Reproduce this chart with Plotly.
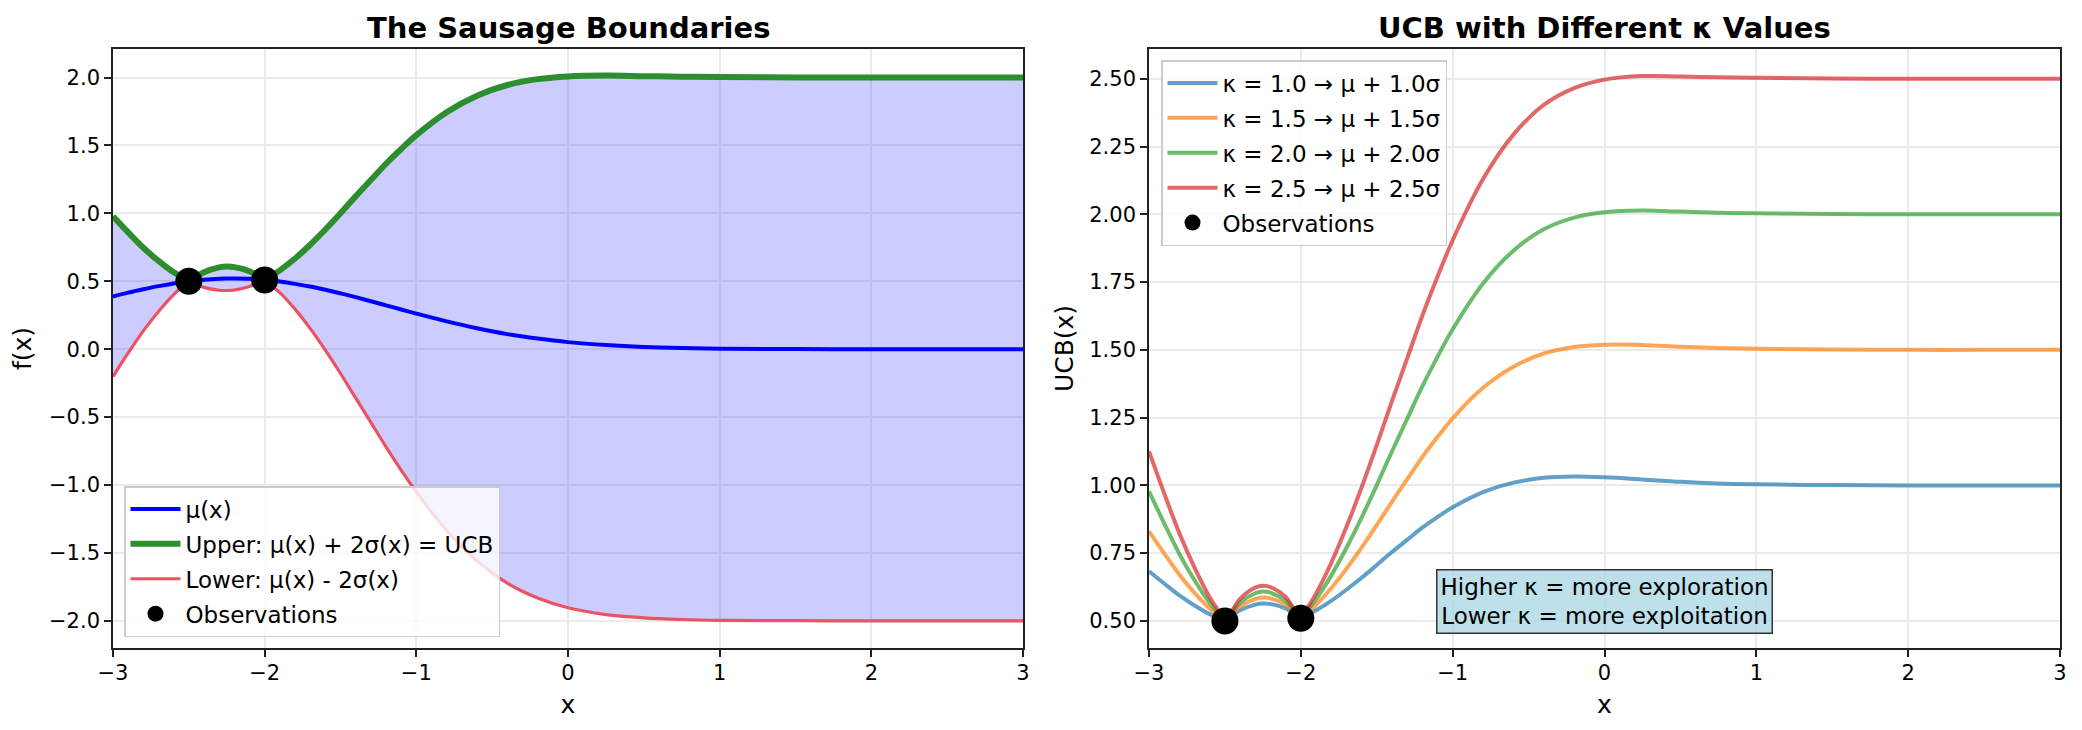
import plotly.graph_objects as go

# GP posterior (2 observations, RBF kernel)
x = [-3.0, -2.9, -2.8, -2.7, -2.6, -2.55, -2.5, -2.45, -2.4, -2.3, -2.25, -2.2, -2.1, -2.05, -2.0,
     -1.95, -1.9, -1.8, -1.7, -1.6, -1.5, -1.4, -1.3, -1.2, -1.1, -1.0, -0.8, -0.6, -0.4, -0.2,
     0.0, 0.25, 0.5, 0.75, 1.0, 1.5, 2.0, 2.5, 3.0]
mu = [0.388, 0.416, 0.441, 0.464, 0.484, 0.493, 0.500, 0.506, 0.511, 0.518, 0.520, 0.520, 0.518, 0.514, 0.510,
      0.504, 0.498, 0.481, 0.461, 0.437, 0.411, 0.383, 0.353, 0.323, 0.292, 0.262, 0.205, 0.154, 0.111, 0.078,
      0.052, 0.030, 0.016, 0.008, 0.004, 0.001, 0.0, 0.0, 0.0]
sigma = [0.295, 0.222, 0.153, 0.093, 0.041, 0.020, 0.0, 0.014, 0.028, 0.042, 0.044, 0.042, 0.028, 0.014, 0.0,
         0.020, 0.041, 0.093, 0.154, 0.222, 0.295, 0.371, 0.446, 0.521, 0.591, 0.657, 0.770, 0.856, 0.917, 0.955,
         0.978, 0.992, 0.997, 0.999, 1.0, 1.0, 1.0, 1.0, 1.0]

obs_x = [-2.5, -2.0]
obs_y = [0.5, 0.51]

kappas = [1.0, 1.5, 2.0, 2.5]
kappa_colors = ['rgba(31,119,180,0.7)', 'rgba(255,127,14,0.7)', 'rgba(44,160,44,0.7)', 'rgba(214,39,40,0.7)']

upper = [m + 2 * s for m, s in zip(mu, sigma)]
lower = [m - 2 * s for m, s in zip(mu, sigma)]

FONT = 'DejaVu Sans'
W, H = 2082, 730
OFF = 8  # page body margin


def px(v):
    return (v - OFF) / W


def py(v):
    return 1 - (v - OFF) / H


fig = go.Figure()

# --- left panel: sausage
fig.add_trace(go.Scatter(x=x, y=upper, mode='lines', line=dict(width=0, shape='spline'),
                         showlegend=False, hoverinfo='skip', xaxis='x', yaxis='y'))
fig.add_trace(go.Scatter(x=x, y=lower, mode='lines', line=dict(width=0, shape='spline'),
                         fill='tonexty', fillcolor='rgba(0,0,255,0.2)',
                         showlegend=False, hoverinfo='skip', xaxis='x', yaxis='y'))
fig.add_trace(go.Scatter(x=x, y=mu, mode='lines', name='μ(x)',
                         line=dict(color='#0000ff', width=4, shape='spline'),
                         legend='legend', legendgroup='a', xaxis='x', yaxis='y'))
fig.add_trace(go.Scatter(x=x, y=upper, mode='lines', name='Upper: μ(x) + 2σ(x) = UCB',
                         line=dict(color='#2d8e2d', width=6, shape='spline'),
                         legend='legend', legendgroup='b', xaxis='x', yaxis='y'))
fig.add_trace(go.Scatter(x=x, y=lower, mode='lines', name='Lower: μ(x) - 2σ(x)',
                         line=dict(color='#ea5362', width=3.2, shape='spline'),
                         legend='legend', legendgroup='c', xaxis='x', yaxis='y'))
fig.add_trace(go.Scatter(x=obs_x, y=obs_y, mode='markers', name='Observations',
                         marker=dict(color='black', size=27),
                         legend='legend', legendgroup='d', xaxis='x', yaxis='y'))

# --- right panel: UCB for several kappa
for k, col in zip(kappas, kappa_colors):
    ucb = [m + k * s for m, s in zip(mu, sigma)]
    fig.add_trace(go.Scatter(x=x, y=ucb, mode='lines', name=f'κ = {k:.1f} → μ + {k:.1f}σ',
                             line=dict(color=col, width=4, shape='spline'),
                             legend='legend2', legendgroup=f'k{k}', xaxis='x2', yaxis='y2'))
fig.add_trace(go.Scatter(x=obs_x, y=obs_y, mode='markers', name='Observations',
                         marker=dict(color='black', size=27),
                         legend='legend2', legendgroup='obs2', xaxis='x2', yaxis='y2'))

axis_common = dict(showline=True, linecolor='#222222', linewidth=1.6, mirror=True,
                   ticks='outside', ticklen=7, tickwidth=1.5, tickcolor='#222222',
                   showgrid=True, gridcolor='#ebebeb', gridwidth=1.6, zeroline=False,
                   tickfont=dict(family=FONT, size=21, color='black'), automargin=False)
xtitle = dict(text='x', font=dict(family=FONT, size=25, color='black'), standoff=11)

ydom = [py(648), py(49)]

fig.update_layout(
    width=W, height=H, template='none',
    margin=dict(l=0, r=0, t=0, b=0),
    paper_bgcolor='white', plot_bgcolor='white',
    font=dict(family=FONT, color='black'),
    xaxis=dict(axis_common, domain=[px(113), px(1023)], range=[-3, 3], dtick=1, anchor='y',
               ticklabelstandoff=-2, title=xtitle),
    yaxis=dict(axis_common, domain=ydom, range=[-2.2, 2.21], tickvals=[-2, -1.5, -1, -0.5, 0, 0.5, 1, 1.5, 2],
               tickformat='.1f', anchor='x',
               title=dict(text='f(x)', font=dict(family=FONT, size=25, color='black'), standoff=12)),
    xaxis2=dict(axis_common, domain=[px(1149), px(2060)], range=[-3, 3], dtick=1, anchor='y2',
                ticklabelstandoff=-2, title=xtitle),
    yaxis2=dict(axis_common, domain=ydom, range=[0.40, 2.61], tickvals=[0.5, 0.75, 1, 1.25, 1.5, 1.75, 2, 2.25, 2.5],
                tickformat='.2f', anchor='x2',
                title=dict(text='UCB(x)', font=dict(family=FONT, size=25, color='black'), standoff=8)),
    legend=dict(x=px(124), y=py(637), xanchor='left', yanchor='bottom',
                bgcolor='rgba(255,255,255,0.8)', bordercolor='#cccccc', borderwidth=1.5,
                font=dict(family=FONT, size=23), tracegroupgap=2, itemwidth=50),
    legend2=dict(x=px(1161), y=py(60), xanchor='left', yanchor='top',
                 bgcolor='rgba(255,255,255,0.8)', bordercolor='#cccccc', borderwidth=1.5,
                 font=dict(family=FONT, size=23), tracegroupgap=2, itemwidth=50),
    annotations=[
        dict(text='The Sausage Boundaries', x=px((113 + 1023) / 2), y=py(28), xref='paper', yref='paper',
             xanchor='center', yanchor='middle', showarrow=False,
             font=dict(family=FONT, size=29, weight='bold')),
        dict(text='UCB with Different κ Values', x=px((1149 + 2060) / 2), y=py(28), xref='paper', yref='paper',
             xanchor='center', yanchor='middle', showarrow=False,
             font=dict(family=FONT, size=29, weight='bold')),
        dict(text='Higher κ = more exploration<br>Lower κ = more exploitation',
             x=0.5, y=0.078, xref='x2 domain', yref='y2 domain', xanchor='center', yanchor='middle',
             showarrow=False, align='center', font=dict(family=FONT, size=23),
             bgcolor='rgba(173,216,230,0.8)', bordercolor='#333333', borderwidth=1.5, borderpad=3),
    ],
)

fig.write_html('out.html')
